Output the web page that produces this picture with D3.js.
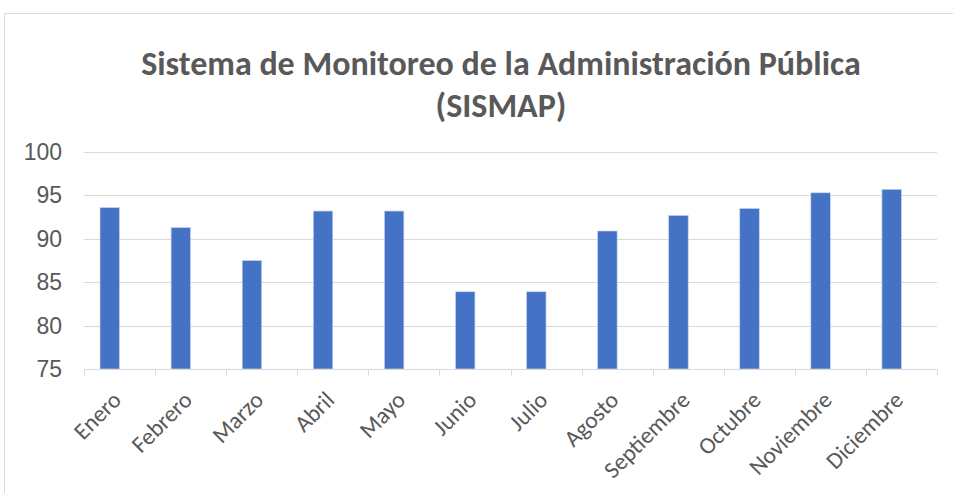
<!DOCTYPE html>
<html>
<head>
<meta charset="utf-8">
<script src="https://cdnjs.cloudflare.com/ajax/libs/d3/7.8.5/d3.min.js"></script>
<style>
	body { margin: 0; background: #fff; }
	svg { display: block; font-family: Carlito, Calibri, "Open Sans", sans-serif; }
	.grid line { stroke: #d9d9d9; stroke-width: 1; }
	.axis-y text, .axis-x text { fill: #595959; }
</style>
</head>
<body>
<div id="chart"></div>
<script>
// datos del gráfico
var meses = ["Enero","Febrero","Marzo","Abril","Mayo","Junio","Julio","Agosto","Septiembre","Octubre","Noviembre","Diciembre"];
var valores = [93.6, 91.3, 87.5, 93.2, 93.2, 83.9, 83.9, 90.9, 92.7, 93.5, 95.3, 95.7];
var series = ["SISMAP", "Serie2"]; // la segunda serie está vacía, deja el hueco a la derecha de cada barra
var ticksY = [75, 80, 85, 90, 95, 100];

var width = 953, height = 493;
var margin = {top: 152, right: 16, bottom: 124, left: 84};

var svg = d3.select("#chart").append("svg")
	.attr("width", width)
	.attr("height", height);

// marco del gráfico
svg.append("rect")
	.attr("x", 4.5).attr("y", 13.5)
	.attr("width", 960).attr("height", 500)
	.style("fill", "none")
	.style("stroke", "#d9d9d9");

// título
var title = svg.append("text")
	.attr("text-anchor", "middle")
	.style("font-weight", "bold")
	.style("font-size", "34px")
	.style("fill", "#595959");
title.append("tspan").attr("x", 501).attr("y", 75).text("Sistema de Monitoreo de la Administración Pública");
title.append("tspan").attr("x", 501).attr("y", 117).text("(SISMAP)");

var x0 = d3.scaleBand()
	.domain(meses)
	.range([margin.left, width - margin.right])
	.padding(0);

var x1 = d3.scaleBand()
	.domain(series)
	.range([0, x0.bandwidth()])
	.paddingInner(0)
	.paddingOuter(0.82);

var y = d3.scaleLinear()
	.domain([75, 100])
	.range([height - margin.bottom, margin.top]);

// líneas de cuadrícula
svg.append("g")
	.attr("class", "grid")
	.selectAll("line")
	.data(ticksY.slice(1))
	.enter().append("line")
	.attr("x1", margin.left)
	.attr("x2", width - margin.right)
	.attr("y1", function(d) { return Math.round(y(d)) + 0.5; })
	.attr("y2", function(d) { return Math.round(y(d)) + 0.5; });

// barras
svg.append("g")
	.selectAll("rect")
	.data(valores)
	.enter().append("rect")
	.attr("x", function(d, i) { return x0(meses[i]) + x1("SISMAP"); })
	.attr("y", function(d) { return y(d); })
	.attr("width", x1.bandwidth())
	.attr("height", function(d) { return y(75) - y(d); })
	.style("fill", "#4472c4")
	.style("stroke", "#c9d6ee")
	.style("stroke-width", 0.7);

// eje y
var axisY = svg.append("g")
	.attr("class", "axis-y")
	.attr("transform", "translate(" + (margin.left - 22) + ",0)")
	.call(d3.axisLeft(y).tickValues(ticksY).tickSize(0).tickPadding(0));
axisY.select(".domain").remove();
axisY.selectAll("text").style("font-size", "23px").attr("dy", "0.33em");

// eje x
var axisX = svg.append("g")
	.attr("class", "axis-x")
	.attr("transform", "translate(0," + (Math.round(y(75)) + 0.5) + ")");

axisX.append("line")
	.attr("x1", margin.left).attr("x2", width - margin.right)
	.style("stroke", "#d9d9d9");

axisX.selectAll(".tick-mark")
	.data(meses.concat(["fin"]))
	.enter().append("line")
	.attr("class", "tick-mark")
	.attr("x1", function(d, i) { return Math.round(margin.left + i * x0.step()) + 0.5; })
	.attr("x2", function(d, i) { return Math.round(margin.left + i * x0.step()) + 0.5; })
	.attr("y1", 0).attr("y2", 6)
	.style("stroke", "#d9d9d9");

axisX.selectAll(".label")
	.data(meses)
	.enter().append("text")
	.attr("class", "label")
	.attr("text-anchor", "end")
	.attr("transform", function(d) { return "translate(" + (x0(d) + x0.bandwidth() / 2 + 3) + ",32) rotate(-45)"; })
	.style("font-size", "23.5px")
	.text(function(d) { return d; });
</script>
</body>
</html>
